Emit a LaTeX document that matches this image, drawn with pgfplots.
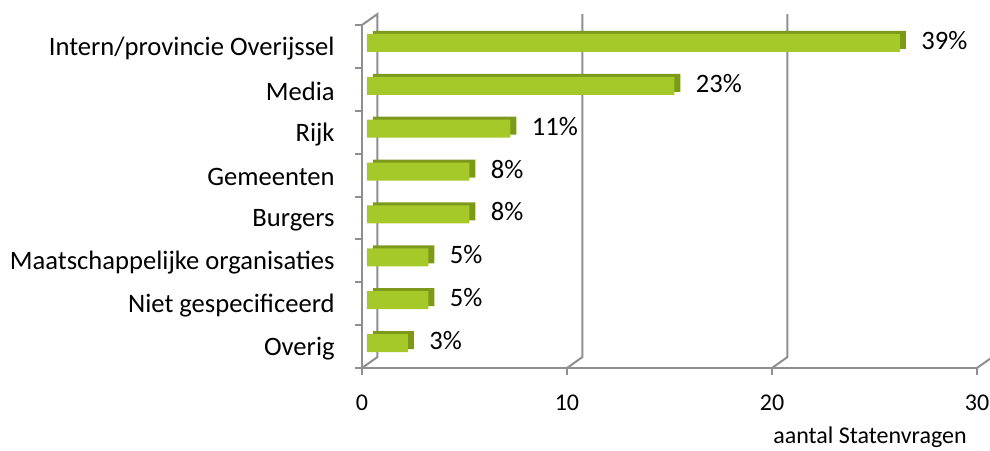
\documentclass[border=0pt]{standalone}
\usepackage{fontspec}
\setmainfont{Carlito}
\usepackage{pgfplots}
\usepackage{pgfplotstable}
\pgfplotsset{compat=1.18}

\definecolor{barfront}{HTML}{A6C92A}
\definecolor{barside}{HTML}{7D991B}
\definecolor{wallgray}{HTML}{8F8F8F}

\newcommand{\lblfont}{\fontsize{13.3}{15}\selectfont}
\newcommand{\tickfont}{\fontsize{12}{14}\selectfont}

% cat = position from the bottom, val = aantal Statenvragen, pct = label
\pgfplotstableread{
cat val pct
0   2   3
1   3   5
2   3   5
3   5   8
4   5   8
5   7   11
6   15  23
7   26  39
}\vragen

\begin{document}
\begin{tikzpicture}
\useasboundingbox (-181pt,-41pt) rectangle (314pt,184pt);
\begin{axis}[
    at={(0pt,0pt)}, anchor=south west,
    scale only axis,
    width=307.5pt, height=171.5pt,
    xmin=0, xmax=30,
    ymin=-0.5, ymax=7.5,
    clip=false,
    axis lines*=left,
    axis line style={wallgray, line width=1pt},
    tick style={wallgray, line width=1pt},
    tick align=outside,
    major tick length=3.5pt,
    minor tick length=3.5pt,
    /pgf/number format/assume math mode=true,
    xtick={0,10,20,30},
    xticklabel style={font=\tickfont, text=black, inner sep=0pt, yshift=-10pt},
    ytick={-0.5,0.5,...,7.5},
    yticklabels={},
    extra y ticks={0,1,...,7},
    extra y tick labels={Overig, Niet gespecificeerd, Maatschappelijke organisaties, Burgers, Gemeenten, Rijk, Media, Intern/provincie Overijssel},
    extra y tick style={major tick length=0pt,
        yticklabel style={font=\lblfont, text=black, inner sep=0pt, xshift=-13.5pt, yshift=-1pt}},
    xlabel={aantal Statenvragen},
    xlabel style={font=\tickfont, at={(axis description cs:0.826,0)}, anchor=north, inner sep=0pt, yshift=-29pt},
]

% back wall of the 3D plot area
\draw[wallgray, line width=1pt] (axis cs:0,7.5) -- ++(7.75pt,5.5pt)
    -- ([xshift=7.75pt,yshift=5.5pt]axis cs:0,-0.5) -- (axis cs:0,-0.5);
\draw[wallgray, line width=1pt] (axis cs:10,-0.5) -- ++(7.75pt,5.5pt)
    -- ([xshift=7.75pt,yshift=5.5pt]axis cs:10,7.5);
\draw[wallgray, line width=1pt] (axis cs:20,-0.5) -- ++(7.75pt,5.5pt)
    -- ([xshift=7.75pt,yshift=5.5pt]axis cs:20,7.5);
\draw[wallgray, line width=1pt] (axis cs:30,-0.5) -- ++(7.75pt,5.5pt)
    -- ([xshift=7.75pt,yshift=5.5pt]axis cs:30,7.5);

% top and side faces
\addplot[xbar, bar width=9pt, bar shift=0pt, fill=barside, draw=none,
    transform canvas={xshift=5.5pt, yshift=3.25pt}]
    table[x=val, y=cat] {\vragen};

% front faces with labels
\addplot[xbar, bar width=9pt, bar shift=0pt, fill=barfront, draw=none,
    transform canvas={xshift=2.5pt, yshift=1.75pt},
    point meta=explicit symbolic,
    nodes near coords={\pgfplotspointmeta\%},
    nodes near coords style={font=\lblfont, text=black, anchor=west, inner sep=0pt, xshift=8pt, yshift=-0.5pt}]
    table[x=val, y=cat, meta=pct] {\vragen};

\end{axis}
\end{tikzpicture}
\end{document}
